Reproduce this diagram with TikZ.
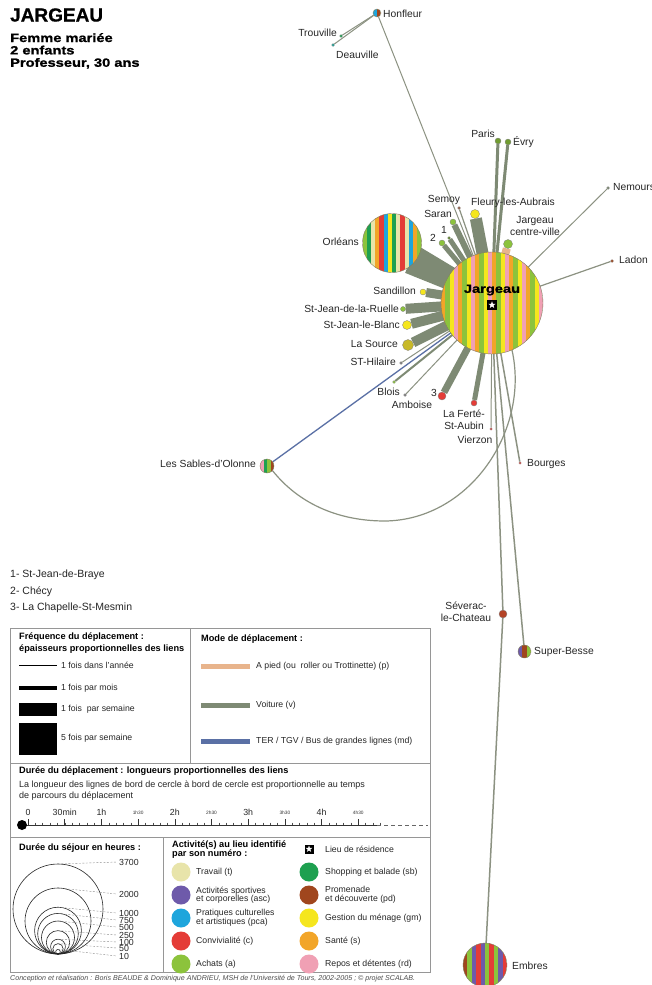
\documentclass[tikz,border=0pt]{standalone}
\usepackage{fontspec}
\setmainfont{Liberation Sans}
\newfontfamily\blackfont[FakeStretch=1.22,FakeBold=1.2]{Liberation Sans Bold}
\newfontfamily\titlefont[FakeBold=0.6]{Liberation Sans Bold}
\usetikzlibrary{calc,shapes.geometric}
\pgfdeclarelayer{bg}
\pgfsetlayers{bg,main}
\definecolor{cT}{RGB}{232,228,170}
\definecolor{cASC}{RGB}{110,90,170}
\definecolor{cPCA}{RGB}{30,165,220}
\definecolor{cC}{RGB}{228,60,55}
\definecolor{cA}{RGB}{140,195,60}
\definecolor{cSB}{RGB}{30,160,80}
\definecolor{cPD}{RGB}{160,70,30}
\definecolor{cGM}{RGB}{245,230,30}
\definecolor{cS}{RGB}{242,165,40}
\definecolor{cRD}{RGB}{240,160,180}
\definecolor{carc}{RGB}{126,138,116}
\definecolor{footc}{RGB}{232,180,140}
\definecolor{trainc}{RGB}{90,112,165}
\definecolor{thinc}{RGB}{140,146,130}
\definecolor{rimc}{RGB}{130,125,95}
\definecolor{boxc}{RGB}{150,150,150}
\definecolor{srcc}{RGB}{200,185,40}
\tikzset{
  lbl/.style={font=\fontsize{10.3}{12}\selectfont, inner sep=0pt, text=black!85, align=center},
  dot/.style={circle, draw=black!50, line width=0.3pt, inner sep=0pt, minimum size=#1},
  disc/.style={circle, inner sep=0pt, minimum size=#1},
  link/.style={draw=carc, line width=#1},
  thinlink/.style={draw=thinc, line width=#1},
  walk/.style={draw=footc, line width=#1},
  rail/.style={draw=trainc, line width=#1},
  leg/.style={font=\fontsize{8.7}{9}\selectfont, inner sep=0pt, anchor=west, align=left, text=black!85},
  legtwo/.style={leg, font=\fontsize{8.7}{8.6}\selectfont},
  legh/.style={font=\bfseries\fontsize{9.2}{11.5}\selectfont, inner sep=0pt, anchor=north west, align=left},
  legc/.style={circle, inner sep=0pt, minimum size=19},
  tl/.style={font=\fontsize{8.8}{9}\selectfont, inner sep=0pt, text=black!85},
  tls/.style={font=\fontsize{4.8}{5}\selectfont, inner sep=0pt, text=black!80},
  sj/.style={font=\fontsize{8.8}{9}\selectfont, inner sep=0pt, anchor=west, text=black!85},
}
\newcommand\stripedisc[4]{%
  \begin{scope}
    \clip (#1.center) circle (#2);
    \foreach \col [count=\k from 0] in {#4}
      \fill[\col] ($(#1.center)+({-#2+\k*#3},-#2)$) rectangle ++(#3+0.25,2*#2);
  \end{scope}
  \draw[line width=0.4pt, draw=rimc] (#1.center) circle (#2);
}
\begin{document}
\begin{tikzpicture}[x=1pt,y=-1pt]
\begin{pgfonlayer}{bg}
\fill[white] (0,0) rectangle (651,985);
\end{pgfonlayer}
\useasboundingbox (0,0) rectangle (651,985);

% ---------- title ----------
\node[anchor=west, inner sep=0, font=\titlefont\fontsize{19}{19}\selectfont] (title) at (10,15) {JARGEAU};
\node[anchor=north west, inner sep=0, align=left, font=\blackfont\fontsize{12}{12.4}\selectfont] (sub) at (10,33) {Femme mariée\\2 enfants\\Professeur, 30 ans};

% ---------- places ----------
\node[disc=102] (J) at (492,303) {};
\node[disc=59] (O) at (392,243) {};
\node[disc=14] (Sab) at (267,466) {};
\node[disc=13] (SB) at (524.5,651.5) {};
\node[disc=44] (Emb) at (485,965) {};
\node[disc=8] (Hon) at (377,13) {};

\node[dot=3, fill=cSB] (trou) at (341,36) {};
\node[dot=3, fill=cSB!50!cPCA] (deau) at (333,45) {};
\node[dot=6, fill=cA!80!black] (paris) at (498,141) {};
\node[dot=6, fill=cA!80!black] (evry) at (508,142) {};
\node[dot=3, fill=carc] (nem) at (608,188) {};
\node[dot=3, fill=cPD] (ladon) at (612,261) {};
\node[dot=3, fill=cPD!60!gray] (semoy) at (459,208) {};
\node[dot=6, fill=cA] (saran) at (453,222) {};
\node[dot=3, fill=cA!70!black] (one) at (449,238) {};
\node[dot=6, fill=cA] (two) at (442,243) {};
\node[dot=9, fill=cGM] (fleury) at (475,214) {};
\node[dot=9, fill=cA] (jcv) at (508,244) {};
\node[dot=6, fill=cGM] (sandillon) at (423,292) {};
\node[dot=5, fill=cA] (sjr) at (403,309) {};
\node[dot=9, fill=cGM] (sjb) at (407,325) {};
\node[dot=11, fill=srcc] (lasource) at (408,345) {};
\node[dot=3, fill=gray] (sthil) at (401,363) {};
\node[dot=3, fill=cA] (blois) at (394,382) {};
\node[dot=3, fill=gray] (amboise) at (405,395) {};
\node[dot=8, fill=cC] (three) at (442,396) {};
\node[dot=6, fill=cC] (ferte) at (474,403) {};
\node[dot=2.5, fill=cC] (vierzon) at (491,429) {};
\node[dot=2.5, fill=cC] (bourges) at (520,463) {};
\node[dot=8, fill=cPD!70!cC] (severac) at (503,614) {};

% ---------- connectors ----------
\begin{pgfonlayer}{bg}
\draw[thinlink=1] (Hon) -- (trou);
\draw[thinlink=1] (Hon) -- (deau);
\draw[thinlink=1] (Hon) -- (J.center);
\draw[link=3] (paris) -- (J.center);
\draw[link=3] (evry) -- (J.center);
\draw[thinlink=1] (nem) -- (J.center);
\draw[thinlink=1.2] (ladon) -- (J.center);
\draw[thinlink=1.2] (semoy) -- (J.center);
\draw[link=6] (saran) -- (J.center);
\draw[link=5] (one) -- (J.center);
\draw[link=5] (two) -- (J.center);
\draw[link=12] (fleury) -- (J.center);
\draw[walk=8] (jcv) -- (J.center);
\draw[link=22] (O.center) -- (J.center);
\draw[link=9] (O.-60) -- (J.center);
\draw[link=9] (sandillon) -- (J.center);
\draw[link=10] (sjr) -- (J.center);
\draw[link=10] (sjb) -- (J.center);
\draw[link=10] (lasource) -- (J.center);
\draw[thinlink=1] (sthil) -- (J.center);
\draw[link=2] (blois) -- (J.center);
\draw[thinlink=1] (amboise) -- (J.center);
\draw[rail=1.3] (Sab) -- (J.center);
\draw[thinlink=1.2] (Sab.-40) .. controls (300,505) and (340,521) .. (385,521)
      .. controls (470,520) and (530,430) .. (J.-67);
\draw[link=7] (three) -- (J.center);
\draw[link=5] (ferte) -- (J.center);
\draw[thinlink=1] (vierzon) -- (J.center);
\draw[thinlink=1.5] (bourges) -- (J.center);
\draw[thinlink=1.5] (severac) -- (J.center);
\draw[thinlink=1.5] (severac) -- (Emb);
\draw[thinlink=1.5] (SB) -- (J.center);
\end{pgfonlayer}

% ---------- striped discs ----------
\stripedisc{J}{51}{4.25}{cS,cA,cGM,cRD,cS,cA,cGM,cRD,cS,cA,cGM,cRD,cS,cA,cGM,cRD,cS,cA,cGM,cRD,cS,cA,cGM,cRD}
\stripedisc{O}{29.5}{4.22}{cA,cSB,cT,cS,cC,cPCA,cGM,cSB,cT,cC,cT,cPCA,cS,cA}
\stripedisc{Sab}{7}{3.5}{cRD,cSB,cA,cPD}
\stripedisc{SB}{6.5}{4.34}{cASC,cPD,cA}
\stripedisc{Emb}{22}{4.4}{cPD,cA,cASC,cC,cASC,cA,cC,cA,cASC,cC}
\stripedisc{Hon}{4}{4}{cPCA,cPD}

\node[inner sep=0, font=\blackfont\fontsize{12}{12}\selectfont] (jname) at (492,290) {Jargeau};
\node[fill=black, inner sep=0, minimum size=10] (home) at (492,305) {};
\node[star, star points=5, star point ratio=2.4, fill=white, inner sep=0, minimum size=7.5] (homestar) at (home) {};

% ---------- labels ----------
\node[lbl, anchor=west] (tHon) at (383,14) {Honfleur};
\node[lbl, anchor=east] (tTrou) at (337,33) {Trouville};
\node[lbl, anchor=west] (tDeau) at (336,55) {Deauville};
\node[lbl, anchor=east] (tParis) at (495,134) {Paris};
\node[lbl, anchor=west] (tEvry) at (513,142) {Évry};
\node[lbl, anchor=west] (tNem) at (613,187) {Nemours};
\node[lbl, anchor=west] (tLadon) at (619,260) {Ladon};
\node[lbl] (tSemoy) at (444,200) {Semoy};
\node[lbl] (tSaran) at (438,214) {Saran};
\node[lbl] (tOne) at (444,230) {1};
\node[lbl] (tTwo) at (433,238) {2};
\node[lbl, anchor=west] (tFleury) at (471,203) {Fleury-les-Aubrais};
\node[lbl] (tJcv) at (535,226) {Jargeau\\centre-ville};
\node[lbl, anchor=east] (tO) at (359,242) {Orléans};
\node[lbl, anchor=east] (tSand) at (416,291) {Sandillon};
\node[lbl, anchor=east] (tSjr) at (399,309) {St-Jean-de-la-Ruelle};
\node[lbl, anchor=east] (tSjb) at (400,325) {St-Jean-le-Blanc};
\node[lbl, anchor=east] (tSrc) at (398,344) {La Source};
\node[lbl, anchor=east] (tSth) at (396,362) {ST-Hilaire};
\node[lbl, anchor=east] (tBlois) at (400,392) {Blois};
\node[lbl] (tAmb) at (412,405) {Amboise};
\node[lbl, anchor=east] (tThree) at (437,393) {3};
\node[lbl] (tFerte) at (464,420) {La Ferté-\\St-Aubin};
\node[lbl] (tVier) at (475,440) {Vierzon};
\node[lbl, anchor=west] (tBour) at (527,464) {Bourges};
\node[lbl] (tSev) at (466,612) {Séverac-\\le-Chateau};
\node[lbl, anchor=west] (tSB) at (534,652) {Super-Besse};
\node[lbl, anchor=west] (tEmb) at (512,966) {Embres};
\node[lbl, anchor=east] (tSab) at (256,464) {Les Sables-d'Olonne};

% ---------- numbered list ----------
\node[lbl, anchor=west, font=\fontsize{10.5}{11}\selectfont] (n1) at (10,575) {1- St-Jean-de-Braye};
\node[lbl, anchor=west, font=\fontsize{10.5}{11}\selectfont] (n2) at (10,592) {2- Chécy};
\node[lbl, anchor=west, font=\fontsize{10.5}{11}\selectfont] (n3) at (10,608) {3- La Chapelle-St-Mesmin};

% ---------- legend frame ----------
\draw[boxc, line width=0.8pt] (10,628) rectangle (430,972);
\draw[boxc, line width=0.8pt] (10,763) -- (430,763);
\draw[boxc, line width=0.8pt] (10,837) -- (430,837);
\draw[boxc, line width=0.8pt] (190,628) -- (190,763);
\draw[boxc, line width=0.8pt] (163,837) -- (163,972);

% frequency
\node[legh] (hFreq) at (19,633) {Fréquence du déplacement :\\épaisseurs proportionnelles des liens};
\draw[black, line width=1pt] (19,665) -- (57,665);
\node[leg] (f1) at (61,665) {1 fois dans l'année};
\draw[black, line width=3.5pt] (19,688) -- (57,688);
\node[leg] (f2) at (61,688) {1 fois par mois};
\fill[black] (19,703) rectangle (57,716);
\node[leg] (f3) at (61,709) {1 fois\ \ par semaine};
\fill[black] (19,723) rectangle (57,755);
\node[leg] (f4) at (61,738) {5 fois par semaine};

% mode
\node[legh] (hMode) at (201,635) {Mode de déplacement :};
\fill[footc] (201,664) rectangle (250,669);
\node[leg] (m1) at (256,666.5) {A pied (ou\ \ roller ou Trottinette) (p)};
\fill[carc] (201,703) rectangle (250,708);
\node[leg] (m2) at (256,705.5) {Voiture (v)};
\fill[trainc] (201,739) rectangle (250,744);
\node[leg] (m3) at (256,741.5) {TER / TGV / Bus de grandes lignes (md)};

% travel duration
\node[legh] (hDur) at (19,767) {Durée du déplacement : longueurs proportionnelles des liens};
\node[legh, font=\fontsize{9}{11}\selectfont, text=black!85] (dDur) at (19,781) {La longueur des lignes de bord de cercle à bord de cercle est proportionnelle au temps\\de parcours du déplacement};
\draw[black!80, line width=1pt] (22,825) -- (377,825);
\draw[black!60, line width=1pt, dash pattern=on 4pt off 3pt] (377,825) -- (428,825);
\foreach \i in {0,...,48} \draw[black!70, line width=0.4pt] ({28+\i*36.7/5},822.5) -- ({28+\i*36.7/5},825);
\foreach \i in {0,...,9} \draw[black!80, line width=0.5pt] ({28+\i*36.7},819) -- ({28+\i*36.7},825);
\fill[black] (22,825) circle (5);
\node[tl] (t0) at (28,812) {0};
\node[tl] (t1) at (64.7,812) {30min};
\node[tl] (t2) at (101.4,812) {1h};
\node[tls] (t3) at (138.1,813) {1h30};
\node[tl] (t4) at (174.8,812) {2h};
\node[tls] (t5) at (211.5,813) {2h30};
\node[tl] (t6) at (248.2,812) {3h};
\node[tls] (t7) at (284.9,813) {3h30};
\node[tl] (t8) at (321.6,812) {4h};
\node[tls] (t9) at (358.3,813) {4h30};

% stay duration
\node[legh, anchor=west] (hSej) at (19,848) {Durée du séjour en heures :};
\foreach \r/\v/\ly in {45/3700/862, 33/2000/894, 23.4/1000/913, 20.3/750/920, 16.5/500/927, 11.7/250/935, 7.4/100/942, 5.2/50/948, 2.3/10/956} {
  \draw[black!85, line width=0.6pt] (58,954-\r) circle (\r);
  \draw[black!45, line width=0.4pt, dash pattern=on 2pt off 1.5pt] (58,954-2*\r) -- (117,\ly);
  \node[sj] at (119,\ly) {\v};
}

% activities
\node[legh, font=\bfseries\fontsize{9.2}{9}\selectfont] (hAct) at (172,841) {Activité(s) au lieu identifié\\par son numéro :};
\node[fill=black, inner sep=0, minimum size=9] (lstar) at (309,849) {};
\node[star, star points=5, star point ratio=2.4, fill=white, inner sep=0, minimum size=7] (lstarw) at (lstar) {};
\node[leg] (lres) at (325,849) {Lieu de résidence};
\node[legc, fill=cT] (aT) at (181,872) {};
\node[leg] (xT) at (196,872) {Travail (t)};
\node[legc, fill=cASC] (aASC) at (181,895) {};
\node[legtwo] (xASC) at (196,895) {Activités sportives\\et corporelles (asc)};
\node[legc, fill=cPCA] (aPCA) at (181,918) {};
\node[legtwo] (xPCA) at (196,918) {Pratiques culturelles\\et artistiques (pca)};
\node[legc, fill=cC] (aC) at (181,941) {};
\node[leg] (xC) at (196,941) {Convivialité (c)};
\node[legc, fill=cA] (aA) at (181,964) {};
\node[leg] (xA) at (196,964) {Achats (a)};
\node[legc, fill=cSB] (aSB) at (309,872) {};
\node[leg] (xSB) at (325,872) {Shopping et balade (sb)};
\node[legc, fill=cPD] (aPD) at (309,895) {};
\node[legtwo] (xPD) at (325,895) {Promenade\\et découverte (pd)};
\node[legc, fill=cGM] (aGM) at (309,918) {};
\node[leg] (xGM) at (325,918) {Gestion du ménage (gm)};
\node[legc, fill=cS] (aS) at (309,941) {};
\node[leg] (xS) at (325,941) {Santé (s)};
\node[legc, fill=cRD] (aRD) at (309,964) {};
\node[leg] (xRD) at (325,964) {Repos et détentes (rd)};

% footer
\node[anchor=west, inner sep=0, font=\itshape\fontsize{7.1}{7.5}\selectfont, text=black!70] (foot) at (10,979) {Conception et réalisation : Boris BEAUDE \& Dominique ANDRIEU, MSH de l'Université de Tours, 2002-2005 ; © projet SCALAB.};
\end{tikzpicture}
\end{document}
